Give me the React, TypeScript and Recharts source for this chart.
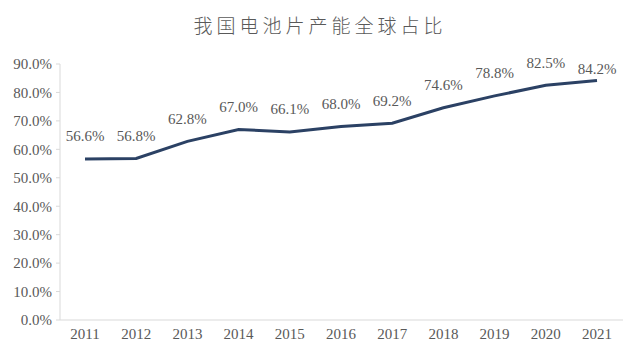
import { LineChart, Line, XAxis, YAxis, LabelList } from 'recharts';

const YEARS = ['2011', '2012', '2013', '2014', '2015', '2016', '2017', '2018', '2019', '2020', '2021'];
const SHARE = [56.6, 56.8, 62.8, 67.0, 66.1, 68.0, 69.2, 74.6, 78.8, 82.5, 84.2];
const Y_TICKS = [0, 10, 20, 30, 40, 50, 60, 70, 80, 90];

const data = YEARS.map((year, i) => ({ year, share: SHARE[i] }));

const TEXT = '#595959';
const AXIS = '#D9D9D9';
const LINE = '#2B4164';
const FONT = '"Liberation Serif", "Times New Roman", serif';

const pct = (v: number) => `${v.toFixed(1)}%`;

function PointLabel(props: any) {
  const { x, y, value, index } = props;
  // the last label sits closer to the line in the source
  const lift = index === SHARE.length - 1 ? 10 : 21;
  return (
    <text
      x={x}
      y={y - lift}
      textAnchor="middle"
      dominantBaseline="middle"
      fill={TEXT}
      fontSize={15}
      fontFamily={FONT}
    >
      {pct(value)}
    </text>
  );
}

export default function App() {
  return (
    <div style={{ position: 'absolute', left: 0, top: 0, width: 640, height: 360, background: '#fff' }}>
      <div
        style={{
          position: 'absolute',
          top: 12,
          left: 0,
          width: 640,
          textAlign: 'center',
          fontFamily: '"Noto Sans CJK SC", sans-serif',
          fontWeight: 300,
          fontSize: 19,
          letterSpacing: 4,
          color: TEXT,
          lineHeight: '26px',
        }}
      >
        我国电池片产能全球占比
      </div>
      <LineChart width={640} height={360} data={data} margin={{ top: 64, right: 17, bottom: 10, left: 0 }}>
        <XAxis
          dataKey="year"
          height={30}
          padding={{ left: 25, right: 26 }}
          tickLine={false}
          axisLine={{ stroke: AXIS }}
          tick={{ fill: TEXT, fontSize: 15, fontFamily: FONT }}
          tickMargin={2}
        />
        <YAxis
          width={60}
          domain={[0, 90]}
          ticks={Y_TICKS}
          interval={0}
          tickFormatter={pct}
          axisLine={{ stroke: AXIS }}
          tickLine={{ stroke: AXIS }}
          tickSize={4}
          tickMargin={4}
          tick={{ fill: TEXT, fontSize: 15, fontFamily: FONT }}
        />
        <Line
          type="linear"
          dataKey="share"
          stroke={LINE}
          strokeWidth={3}
          dot={false}
          isAnimationActive={false}
        >
          <LabelList dataKey="share" content={PointLabel} />
        </Line>
      </LineChart>
    </div>
  );
}
